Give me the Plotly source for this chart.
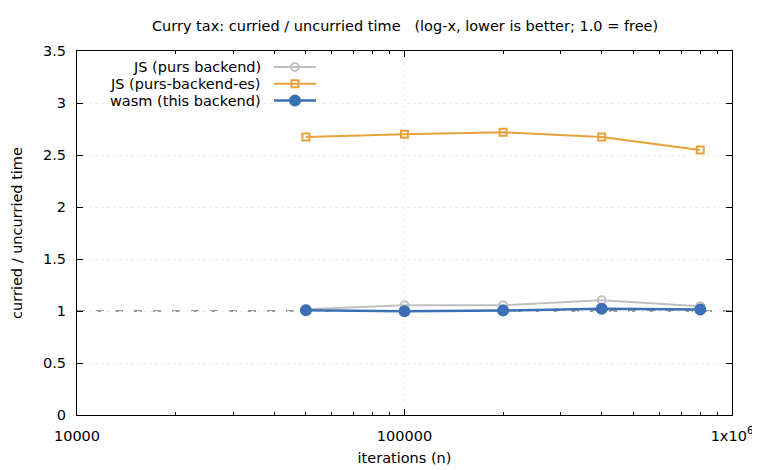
import plotly.graph_objects as go

iterations = [50000, 100000, 200000, 400000, 800000]
js_purs = [1.016, 1.055, 1.055, 1.103, 1.045]
js_es = [2.673, 2.700, 2.718, 2.673, 2.548]
wasm = [1.007, 0.998, 1.005, 1.022, 1.014]

series_names = ["JS (purs backend)", "JS (purs-backend-es)", "wasm (this backend)"]
series_colors = ["#c0c0c0", "#e8a23c", "#3b6fb6"]
series_symbols = ["circle-open", "square-open", "circle"]
series_sizes = [8, 7, 10]
series_widths = [2, 2, 2.5]
series_values = [js_purs, js_es, wasm]

x_tickvals = [10000, 100000, 1000000]
x_ticktext = ["10000", "100000", "1x10<sup>6</sup>"]
x_minor = [20000, 30000, 40000, 50000, 60000, 70000, 80000, 90000,
           200000, 300000, 400000, 500000, 600000, 700000, 800000, 900000]
y_tickvals = [0, 0.5, 1, 1.5, 2, 2.5, 3, 3.5]
y_ticktext = ["0", "0.5", "1", "1.5", "2", "2.5", "3", "3.5"]
ref_level = 1.0

FONT = "DejaVu Sans"
FS = 14.5

fig = go.Figure()

for name, vals, col, sym, sz, w in zip(series_names, series_values, series_colors,
                                       series_symbols, series_sizes, series_widths):
    fig.add_trace(go.Scatter(
        x=iterations, y=vals, mode="lines+markers", name=name,
        line=dict(color=col, width=w),
        marker=dict(symbol=sym, size=sz, color=col, line=dict(color=col, width=2)),
        showlegend=False,
    ))

# manual gnuplot-style legend (text right, sample on right)
leg_y = [0.956, 0.910, 0.864]
for name, col, sym, sz, w, ly in zip(series_names, series_colors, series_symbols,
                                     series_sizes, series_widths, leg_y):
    fig.add_trace(go.Scatter(
        x=[0.3008, 0.3649], y=[ly, ly], mode="lines", xaxis="x2", yaxis="y2",
        line=dict(color=col, width=w), showlegend=False, hoverinfo="skip"))
    fig.add_trace(go.Scatter(
        x=[0.3328], y=[ly], mode="markers", xaxis="x2", yaxis="y2",
        marker=dict(symbol=sym, size=sz, color=col, line=dict(color=col, width=2)),
        showlegend=False, hoverinfo="skip"))
    fig.add_annotation(x=0.284, y=ly, xref="paper", yref="paper", text=name,
                       showarrow=False, xanchor="right", yanchor="middle",
                       font=dict(family=FONT, size=FS, color="#000000"))

# reference line at 1.0 (= free)
fig.add_shape(type="line", xref="paper", yref="y", x0=0, x1=1, y0=ref_level, y1=ref_level,
              line=dict(color="#9a9a9a", width=1.8, dash="8px,11px"), layer="between")

# page body has an 8px margin, so the figure is sized/offset to compensate
fig.update_layout(
    width=752, height=462,
    margin=dict(l=69, r=28, t=43, b=55),
    paper_bgcolor="white", plot_bgcolor="white",
    font=dict(family=FONT, size=FS, color="#000000"),
    title=dict(text="Curry tax: curried / uncurried time   (log-x, lower is better; 1.0 = free)",
               x=0.528, xanchor="center", y=0.961, yanchor="middle",
               font=dict(family=FONT, size=FS, color="#000000")),
    showlegend=False,
    xaxis=dict(type="log", range=[4, 6], tickvals=x_tickvals, ticktext=x_ticktext,
               ticks="inside", ticklen=6, tickwidth=1, tickcolor="#000000",
               showline=True, linecolor="#000000", linewidth=1.2, mirror="ticks",
               showgrid=True, gridcolor="#f0f0f0", griddash="dot", gridwidth=1,
               zeroline=False, ticklabelstandoff=7, automargin=False,
               ticklabeloverflow="allow",
               minor=dict(tickvals=x_minor, ticks="inside", ticklen=3,
                          tickcolor="#000000", showgrid=False),
               title=dict(text="iterations (n)", standoff=10,
                          font=dict(family=FONT, size=FS))),
    yaxis=dict(range=[0, 3.5], tickvals=y_tickvals, ticktext=y_ticktext,
               ticks="inside", ticklen=6, tickwidth=1, tickcolor="#000000",
               showline=True, linecolor="#000000", linewidth=1.2, mirror="ticks",
               showgrid=True, gridcolor="#f0f0f0", griddash="dot", gridwidth=1,
               zeroline=False, ticklabelstandoff=7, automargin=False,
               ticklabeloverflow="allow",
               title=dict(text="curried / uncurried time", standoff=16,
                          font=dict(family=FONT, size=FS))),
    xaxis2=dict(overlaying="x", range=[0, 1], visible=False, fixedrange=True),
    yaxis2=dict(overlaying="y", range=[0, 1], visible=False, fixedrange=True),
)

fig.write_html("out.html")
